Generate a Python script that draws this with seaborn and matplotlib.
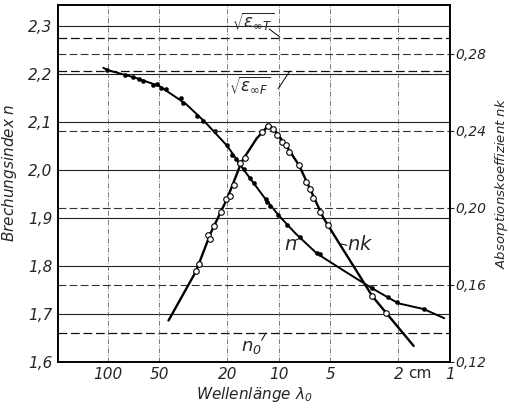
import matplotlib

matplotlib.use("Agg")

import matplotlib.pyplot as plt
import pandas as pd
import seaborn as sns
from matplotlib.ticker import NullLocator

# Brechungsindex n: Messpunkte (gefuellte Punkte)
N_LAMBDA = [100.4, 79.6, 71.3, 65.8, 62.4, 54.5, 51.7, 48.8, 45.6, 37.3, 36.5,
            29.9, 27.7, 23.6, 20.2, 18.7, 17.7, 17.1, 16.0, 14.8, 14.0, 11.9,
            11.7, 11.2, 10.1, 8.95, 7.48, 5.99, 5.72, 2.84, 2.31, 2.05, 1.42]
N_VALUES = [2.208, 2.198, 2.193, 2.190, 2.185, 2.177, 2.179, 2.170, 2.169, 2.150, 2.140,
            2.113, 2.102, 2.081, 2.051, 2.031, 2.022, 2.015, 2.001, 1.983, 1.972, 1.939,
            1.934, 1.924, 1.906, 1.885, 1.860, 1.826, 1.825, 1.753, 1.736, 1.724, 1.710]

# ausgeglichene Kurve n
N_CURVE_LAMBDA = [106, 100, 70, 50, 35, 27, 20, 16, 12, 10, 8, 6, 4, 2.84, 2.0, 1.42, 1.08]
N_CURVE = [2.213, 2.208, 2.193, 2.175, 2.138, 2.100, 2.050, 2.000, 1.940, 1.905,
           1.868, 1.826, 1.786, 1.753, 1.722, 1.710, 1.691]

# Absorptionskoeffizient nk: Messpunkte (offene Kreise)
NK_LAMBDA = [30.5, 29.2, 25.9, 25.2, 23.9, 21.8, 20.4, 19.4, 18.3, 16.9, 15.8, 12.5,
             11.6, 10.8, 10.2, 9.64, 9.07, 8.75, 7.65, 6.94, 6.55, 6.31, 5.73, 5.16,
             2.84, 2.36]
NK_VALUES = [0.1673, 0.1708, 0.1860, 0.1839, 0.1907, 0.1979, 0.2045, 0.2063, 0.2120,
             0.2232, 0.2258, 0.2397, 0.2428, 0.2411, 0.2380, 0.2345, 0.2328, 0.2293,
             0.2224, 0.2135, 0.2099, 0.2050, 0.1977, 0.1909, 0.1541, 0.1455]

# ausgeglichene Kurve nk
NK_CURVE_LAMBDA = [44.1, 30.5, 25, 20, 16.5, 13.5, 12, 11.5, 10.5, 9, 7.6, 6.5, 5.5, 4.5,
                   2.84, 2.36, 1.63]
NK_CURVE = [0.1415, 0.167, 0.187, 0.205, 0.224, 0.236, 0.241, 0.2432, 0.240, 0.232,
            0.222, 0.209, 0.195, 0.1825, 0.1541, 0.1455, 0.1283]

# Grenzwerte
N0 = 1.660
EPS_F = 2.206
EPS_T = 2.275

N_TICKS = [1.6, 1.7, 1.8, 1.9, 2.0, 2.1, 2.2, 2.3]
NK_TICKS = [0.12, 0.16, 0.20, 0.24, 0.28]
NK_DASHED = [0.16, 0.20, 0.24, 0.28]
X_TICKS = [100, 50, 20, 10, 5, 2, 1]
X_LABELS = ["100", "50", "20", "10", "5", "2", "1"]

FONT = ["DejaVu Sans"]


def main():
    sns.set_style("white")
    plt.rcParams["font.family"] = FONT
    plt.rcParams["font.style"] = "italic"
    plt.rcParams["mathtext.fontset"] = "dejavusans"

    n_pts = pd.DataFrame({"lam": N_LAMBDA, "n": N_VALUES})
    n_line = pd.DataFrame({"lam": N_CURVE_LAMBDA, "n": N_CURVE})
    nk_pts = pd.DataFrame({"lam": NK_LAMBDA, "nk": NK_VALUES})
    nk_line = pd.DataFrame({"lam": NK_CURVE_LAMBDA, "nk": NK_CURVE})

    fig = plt.figure(figsize=(5.09, 4.08), dpi=100)
    ax = fig.add_axes([0.114, 0.113, 0.770, 0.875])
    ax.set_xscale("log")
    ax.set_xlim(195, 1.0)
    ax.set_ylim(1.6, 2.344)

    # Gitter
    for y in N_TICKS[1:]:
        ax.axhline(y, color="#222222", lw=0.8, zorder=1)
    for y in (N0, EPS_F, EPS_T):
        ax.axhline(y, color="#111111", lw=0.9, ls=(0, (7, 3)), zorder=1)
    for x in X_TICKS[:-1]:
        ax.axvline(x, color="#666666", lw=0.6, ls=(0, (6, 2, 1, 2)), zorder=1)

    sns.lineplot(data=n_line, x="lam", y="n", sort=False, estimator=None,
                 color="black", lw=1.4, ax=ax, zorder=3)
    sns.scatterplot(data=n_pts, x="lam", y="n", color="black", s=9,
                    edgecolor="black", linewidth=0.3, ax=ax, zorder=4)

    ax2 = ax.twinx()
    ax2.set_ylim(0.12, 0.12 + (2.344 - 1.6) * 0.16 / (1.6417 - 1.0))
    for y in NK_DASHED:
        ax2.axhline(y, color="#333333", lw=0.8, ls=(0, (7, 3)), zorder=1)
    sns.lineplot(data=nk_line, x="lam", y="nk", sort=False, estimator=None,
                 color="black", lw=1.7, ax=ax2, zorder=3)
    sns.scatterplot(data=nk_pts, x="lam", y="nk", color="white", s=16,
                    edgecolor="black", linewidth=0.8, ax=ax2, zorder=4)

    ax.set_xticks(X_TICKS)
    ax.set_xticklabels(X_LABELS)
    ax.xaxis.set_minor_locator(NullLocator())
    ax.set_yticks(N_TICKS)
    ax.set_yticklabels([f"{v:.1f}".replace(".", ",") for v in N_TICKS])
    ax2.set_yticks(NK_TICKS)
    ax2.set_yticklabels([f"{v:.2f}".replace(".", ",") for v in NK_TICKS])
    ax2.xaxis.set_minor_locator(NullLocator())

    ax.tick_params(axis="both", length=0, labelsize=11, pad=4)
    ax2.tick_params(axis="y", length=3, labelsize=10, pad=1)

    ax.set_xlabel(r"Wellenlänge $\lambda_0$", fontsize=11, labelpad=2)
    ax.set_ylabel("Brechungsindex $n$", fontsize=11)
    ax.yaxis.set_label_coords(-0.1, 0.53)
    ax2.set_ylabel("Absorptionskoeffizient $nk$", fontsize=9.5, labelpad=5)

    for a in (ax, ax2):
        for side in ("left", "bottom", "right", "top"):
            a.spines[side].set_color("black")
            a.spines[side].set_linewidth(1.2)

    # "cm" hinter der Marke 2
    ax.text(1.76, -0.012, "cm", fontsize=11, style="normal",
            transform=ax.get_xaxis_transform(), ha="left", va="top")

    # Beschriftungen
    ax.text(18.8, 2.308, r"$\sqrt{\varepsilon_{\infty T}}$", fontsize=12,
            ha="left", va="center")
    ax.plot([11.4, 9.86], [2.294, 2.277], color="black", lw=0.7)
    ax.text(19.5, 2.175, r"$\sqrt{\varepsilon_{\infty F}}$", fontsize=12,
            ha="left", va="center")
    ax.plot([10.1, 8.63], [2.169, 2.206], color="black", lw=0.7)
    ax.text(8.55, 1.844, "$n$", fontsize=14, ha="center", va="center")
    ax.plot([8.05, 7.5], [1.853, 1.858], color="black", lw=0.7)
    ax.text(3.97, 1.844, "$nk$", fontsize=14, ha="left", va="center")
    ax.plot([4.35, 4.0], [1.846, 1.843], color="black", lw=0.7)
    ax.text(16.6, 1.631, "$n_0$", fontsize=13, ha="left", va="center")
    ax.plot([12.6, 11.9], [1.645, 1.660], color="black", lw=0.7)

    fig.savefig("out.png", dpi=100)
    plt.close(fig)


if __name__ == "__main__":
    main()
